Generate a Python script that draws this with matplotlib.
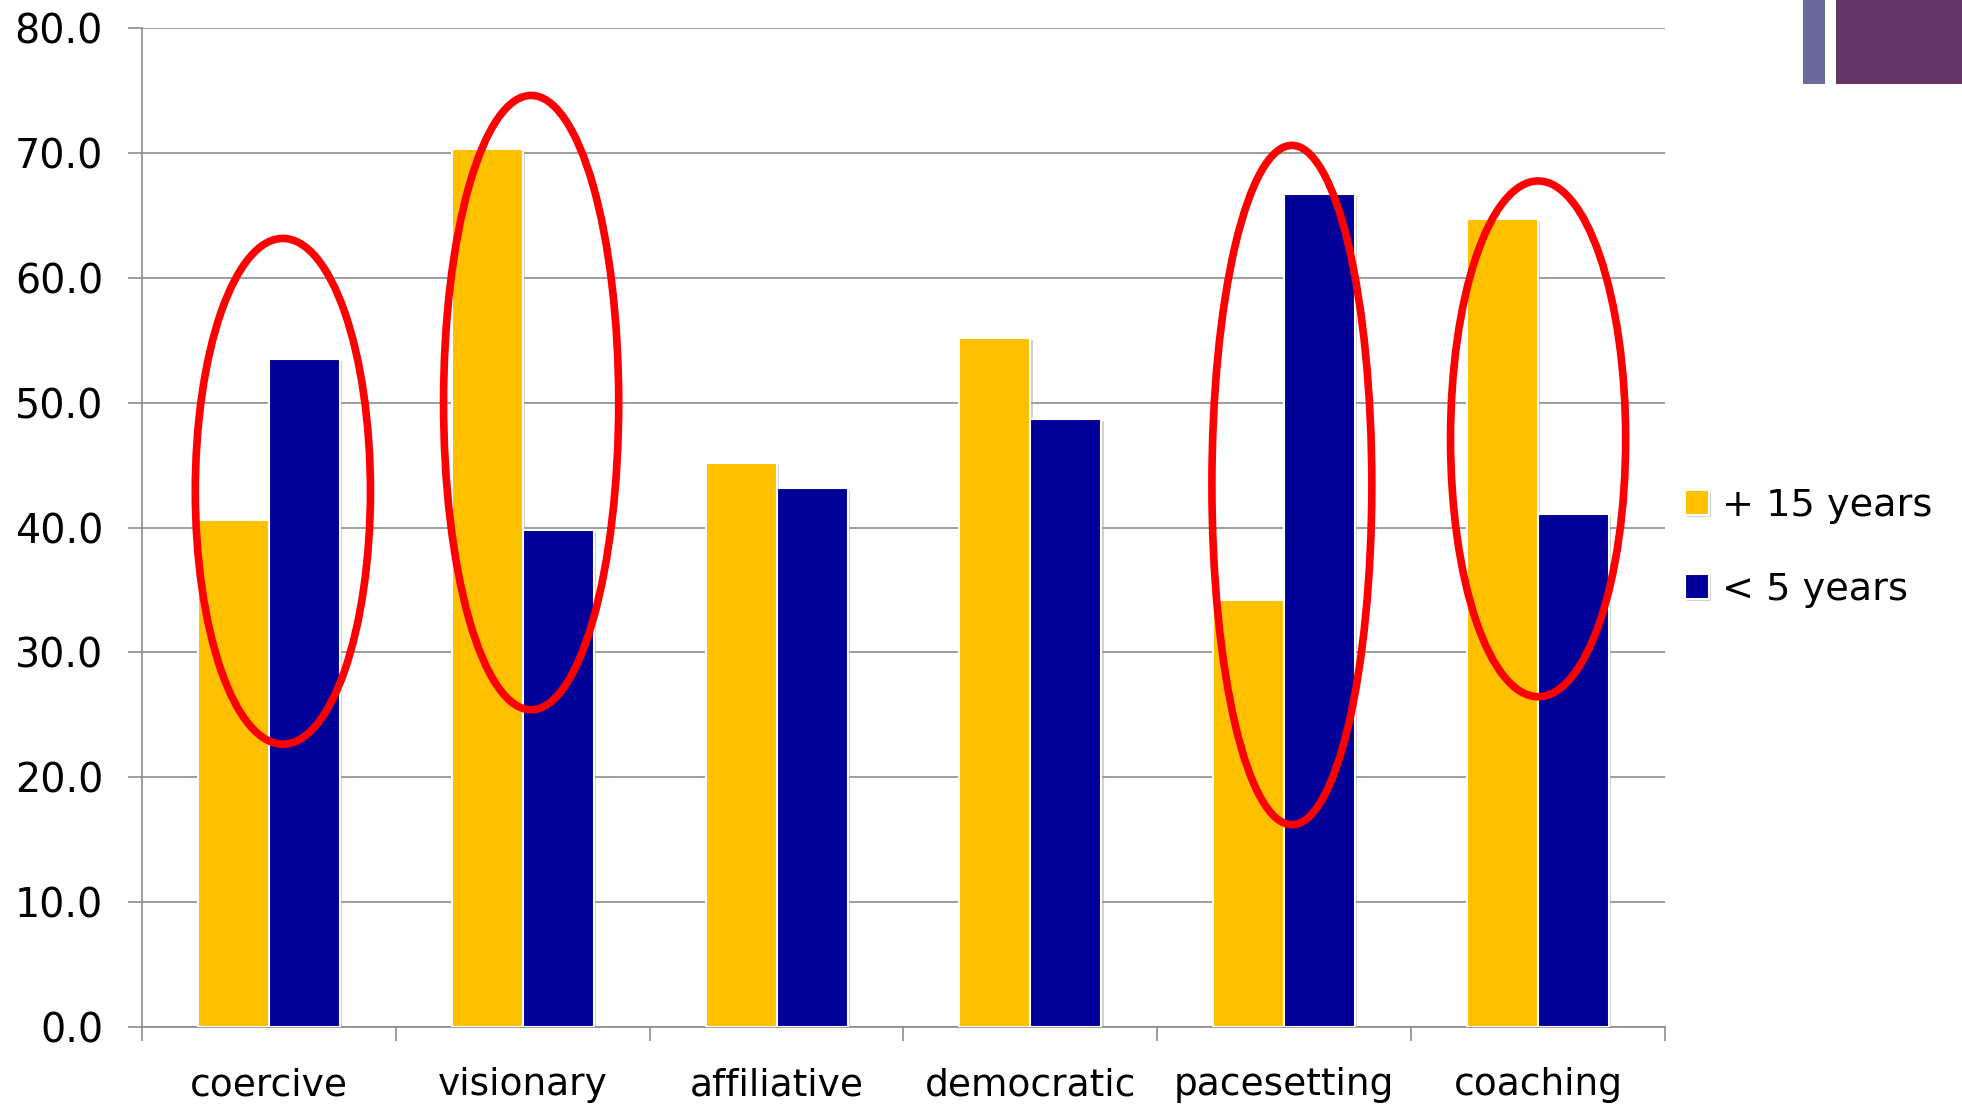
import matplotlib
matplotlib.use("Agg")
import matplotlib.pyplot as plt
import numpy as np
from matplotlib.patches import Ellipse, Rectangle
import matplotlib.patheffects as pe

plt.rcParams['font.family'] = ['DejaVu Sans']

categories = ["coercive", "visionary", "affiliative", "democratic", "pacesetting", "coaching"]
senior = [40.6, 70.3, 45.2, 55.2, 34.2, 64.7]   # + 15 years
junior = [53.5, 39.8, 43.2, 48.7, 66.7, 41.1]   # < 5 years
series_labels = ["+ 15 years", "< 5 years"]
y_ticks = [0, 10, 20, 30, 40, 50, 60, 70, 80]

# circled groups: (category index, x shift, centre value, width, height)
highlights = [
    (0, 0.055, 42.9, 0.69, 40.5),
    (1, 0.033, 50.0, 0.69, 49.2),
    (4, 0.030, 43.4, 0.63, 54.4),
    (5, 0.000, 47.1, 0.69, 41.3),
]

W, H = 1962, 1105
fig = plt.figure(figsize=(W / 100, H / 100), dpi=100)
ax = fig.add_axes([142 / W, 1 - 1027 / H, (1665 - 142) / W, (1027 - 28) / H])

x = np.arange(len(categories))
bw = 0.28
shadow = [pe.SimplePatchShadow(offset=(1.5, -1.5), shadow_rgbFace="#9a9a9a", alpha=0.45), pe.Normal()]
b1 = ax.bar(x - bw / 2, senior, bw, color="#FFC000", edgecolor="white", linewidth=1.5,
            label=series_labels[0], zorder=3)
b2 = ax.bar(x + bw / 2, junior, bw, color="#000099", edgecolor="white", linewidth=1.5,
            label=series_labels[1], zorder=3)
for p in list(b1) + list(b2):
    p.set_path_effects(shadow)

for idx, dx, cy, w, h in highlights:
    ax.add_patch(Ellipse((idx + dx, cy), w, h, fill=False, edgecolor="#FF0000",
                         linewidth=5.5, zorder=5, clip_on=False))

ax.set_xlim(-0.5, len(categories) - 0.5)
ax.set_ylim(0, 80)
ax.set_yticks(y_ticks)
ax.set_yticklabels([f"{v:.1f}" for v in y_ticks])
ax.yaxis.grid(True, color="#8c8c8c", linewidth=1.2, zorder=0)
ax.set_axisbelow(True)

# category boundaries carry the tick marks, names sit at the centres
ax.set_xticks(np.arange(len(categories) + 1) - 0.5)
ax.set_xticklabels([])
ax.set_xticks(x, minor=True)
ax.set_xticklabels(categories, minor=True)
ax.tick_params(axis="x", which="major", length=10, width=1.2, color="#8c8c8c", direction="out")
ax.tick_params(axis="x", which="minor", length=0, pad=29, labelsize=27)
ax.tick_params(axis="y", length=10, width=1.2, color="#8c8c8c", direction="out", pad=18, labelsize=28.5)

for s in ("top", "right"):
    ax.spines[s].set_visible(False)
for s in ("left", "bottom"):
    ax.spines[s].set_color("#8c8c8c")
    ax.spines[s].set_linewidth(1.2)

fig.legend(handles=[b1, b2], labels=series_labels, loc="center left",
           bbox_to_anchor=(1685 / W, 1 - 548 / H), frameon=False, fontsize=27.5,
           handlelength=0.62, handleheight=0.62, handletextpad=0.35,
           labelspacing=1.25, borderpad=0, borderaxespad=0)

# slide corner accents
fig.add_artist(Rectangle((1803 / W, 1 - 84 / H), 22 / W, 84 / H, transform=fig.transFigure,
                         facecolor="#676A9A", edgecolor="none"))
fig.add_artist(Rectangle((1836 / W, 1 - 84 / H), (W - 1836) / W, 84 / H, transform=fig.transFigure,
                         facecolor="#643464", edgecolor="none"))

fig.savefig("out.png", dpi=100, facecolor="white")
